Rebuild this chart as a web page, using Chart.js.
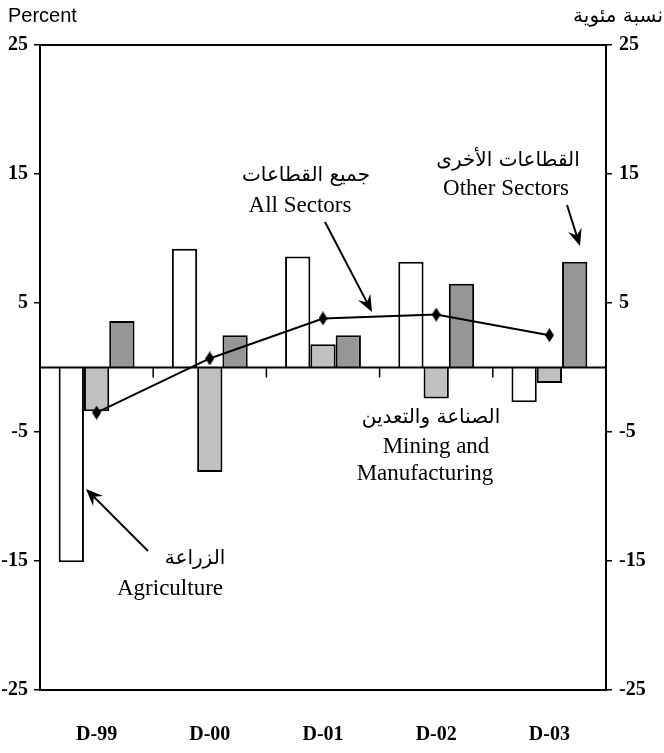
<!DOCTYPE html>
<html>
<head>
<meta charset="utf-8">
<script src="https://cdn.jsdelivr.net/npm/chart.js@4.4.0/dist/chart.umd.min.js"></script>
<style>
  html, body { margin: 0; padding: 0; background: #fff; }
  #wrap { position: relative; width: 664px; height: 753px; }
</style>
</head>
<body>
<div id="wrap"><canvas id="chart" width="664" height="753"></canvas></div>
<script>
// 類別與數據
const categories = ["D-99", "D-00", "D-01", "D-02", "D-03"];
const agriculture = [-15.1, 9.2, 8.6, 8.2, -2.7];
const mining = [-3.4, -8.1, 1.8, -2.4, -1.2];
const otherSectors = [3.6, 2.5, 2.5, 6.5, 8.2];
const allSectors = [-3.5, 0.7, 3.8, 4.1, 2.5];
const yTicks = [-25, -15, -5, 5, 15, 25];

const tickFont = { family: "'Liberation Serif', 'Times New Roman', serif", size: 20, weight: "bold" };
const noteFont = "23px 'Liberation Serif', 'Times New Roman', serif";
const arabicFont = "20px 'DejaVu Sans', sans-serif";

// 菱形標記
function makeDiamond(w, h) {
    const c = document.createElement("canvas");
    c.width = w; c.height = h;
    const g = c.getContext("2d");
    g.fillStyle = "#000";
    g.beginPath();
    g.moveTo(w / 2, 0);
    g.lineTo(w, h / 2);
    g.lineTo(w / 2, h);
    g.lineTo(0, h / 2);
    g.closePath();
    g.fill();
    return c;
}

function arrow(ctx, x1, y1, x2, y2) {
    const a = Math.atan2(y2 - y1, x2 - x1);
    const len = 17, wid = 7;
    ctx.beginPath();
    ctx.moveTo(x1, y1);
    ctx.lineTo(x2 - Math.cos(a) * 10, y2 - Math.sin(a) * 10);
    ctx.stroke();
    ctx.beginPath();
    ctx.moveTo(x2, y2);
    ctx.lineTo(x2 - len * Math.cos(a) + wid * Math.sin(a), y2 - len * Math.sin(a) - wid * Math.cos(a));
    ctx.lineTo(x2 - 11 * Math.cos(a), y2 - 11 * Math.sin(a));
    ctx.lineTo(x2 - len * Math.cos(a) - wid * Math.sin(a), y2 - len * Math.sin(a) + wid * Math.cos(a));
    ctx.closePath();
    ctx.fill();
}

// 零線、分類刻度、上框線與註解
const decorations = {
    id: "decorations",
    afterDatasetsDraw(chart) {
        const ctx = chart.ctx;
        const area = chart.chartArea;
        const x = chart.scales.x;
        const y0 = chart.scales.y.getPixelForValue(0);
        ctx.save();
        ctx.strokeStyle = "#000";
        ctx.fillStyle = "#000";
        ctx.lineWidth = 2;
        ctx.beginPath();
        ctx.moveTo(area.left, y0);
        ctx.lineTo(area.right, y0);
        ctx.moveTo(area.left, area.top);
        ctx.lineTo(area.right, area.top);
        ctx.stroke();
        ctx.lineWidth = 1.5;
        for (let i = 1; i < categories.length; i++) {
            const px = x.getPixelForValue(i - 0.5);
            ctx.beginPath();
            ctx.moveTo(px, y0);
            ctx.lineTo(px, y0 + 10);
            ctx.stroke();
        }

        // 註解
        ctx.lineWidth = 2;
        arrow(ctx, 325, 222, 372, 312);
        arrow(ctx, 567, 205, 580, 246);
        arrow(ctx, 148, 551, 86, 489);

        ctx.textAlign = "center";
        ctx.textBaseline = "middle";
        ctx.font = arabicFont;
        ctx.fillText("جميع القطاعات", 306, 176);
        ctx.fillText("القطاعات الأخرى", 508, 161);
        ctx.fillText("الصناعة والتعدين", 431, 418);
        ctx.fillText("الزراعة", 195, 559);
        ctx.font = noteFont;
        ctx.fillText("All Sectors", 300, 206);
        ctx.fillText("Other Sectors", 506, 189);
        ctx.fillText("Mining and", 436, 447);
        ctx.fillText("Manufacturing", 425, 474);
        ctx.fillText("Agriculture", 170, 589);

        ctx.font = "20px 'Liberation Sans', Arial, sans-serif";
        ctx.textAlign = "left";
        ctx.fillText("Percent", 8, 16);
        ctx.font = "20px 'DejaVu Sans', 'Liberation Sans', sans-serif";
        ctx.textAlign = "right";
        ctx.fillText("نسبة مئوية", 663, 17);
        ctx.restore();
    }
};

const yAxisBase = {
    type: "linear",
    min: -25,
    max: 25,
    afterBuildTicks(scale) { scale.ticks = yTicks.map(v => ({ value: v })); },
    grid: { drawOnChartArea: false, drawTicks: true, tickLength: 6, color: "#000", lineWidth: 1.5 },
    border: { display: true, color: "#000", width: 2 },
    ticks: { color: "#000", font: tickFont }
};

new Chart(document.getElementById("chart").getContext("2d"), {
    type: "bar",
    data: {
        labels: categories,
        datasets: [
            {
                type: "line",
                label: "All Sectors",
                data: allSectors,
                borderColor: "#000",
                borderWidth: 2,
                pointStyle: makeDiamond(9, 14),
                pointRadius: 7,
                tension: 0,
                fill: false,
                order: 0
            },
            {
                label: "Agriculture",
                data: agriculture,
                backgroundColor: "#ffffff",
                borderColor: "#000",
                borderWidth: 2,
                order: 1
            },
            {
                label: "Mining and Manufacturing",
                data: mining,
                backgroundColor: "#c0c0c0",
                borderColor: "#000",
                borderWidth: 2,
                order: 1
            },
            {
                label: "Other Sectors",
                data: otherSectors,
                backgroundColor: "#969696",
                borderColor: "#000",
                borderWidth: 2,
                order: 1
            }
        ]
    },
    options: {
        responsive: false,
        animation: false,
        devicePixelRatio: 1,
        layout: { padding: { top: 45, left: 0, right: 0, bottom: 0 } },
        datasets: { bar: { categoryPercentage: 0.67, barPercentage: 1 } },
        plugins: { legend: { display: false }, tooltip: { enabled: false } },
        scales: {
            x: {
                grid: { display: false },
                border: { display: true, color: "#000", width: 2 },
                ticks: { color: "#000", font: tickFont, padding: 25 },
                afterFit(scale) { scale.height = 63; }
            },
            y: Object.assign({}, yAxisBase, {
                position: "left",
                ticks: Object.assign({}, yAxisBase.ticks, { padding: 6 }),
                afterFit(scale) { scale.width = 40; }
            }),
            y2: Object.assign({}, yAxisBase, {
                position: "right",
                ticks: Object.assign({}, yAxisBase.ticks, { padding: 7 }),
                afterFit(scale) { scale.width = 58; }
            })
        }
    },
    plugins: [decorations]
});
</script>
</body>
</html>
